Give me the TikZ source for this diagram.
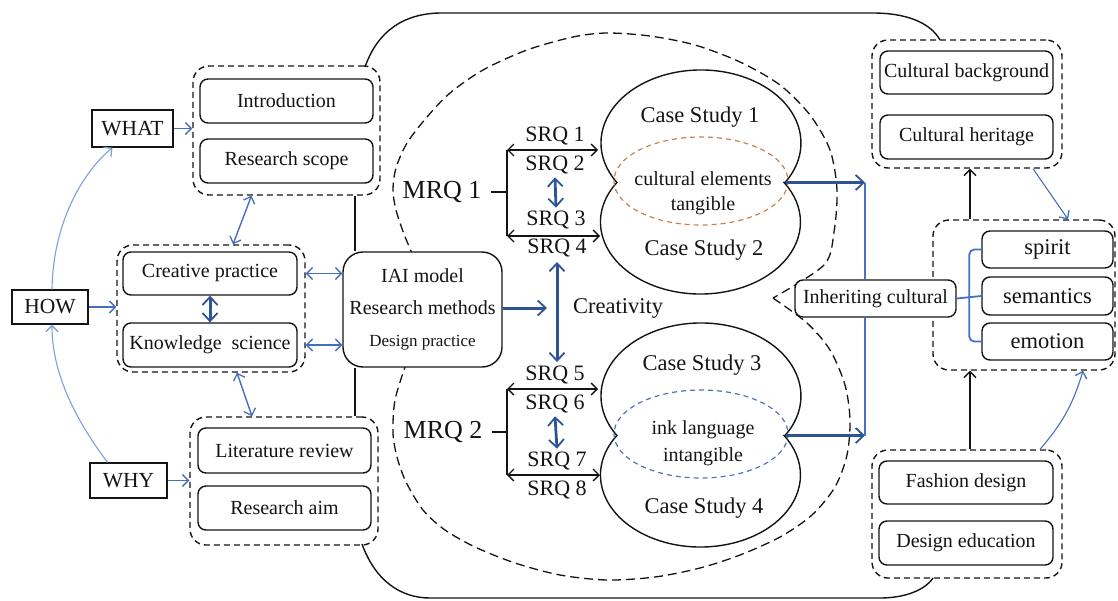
\documentclass[tikz,border=0pt]{standalone}
\usepackage{fontspec}
\setmainfont{Liberation Serif}
\usetikzlibrary{arrows.meta,calc}

\definecolor{ink}{RGB}{20,20,20}
\definecolor{flowblue}{RGB}{47,84,150}
\definecolor{linkblue}{RGB}{70,110,190}
\definecolor{paleblue}{RGB}{125,160,220}
\definecolor{treeblue}{RGB}{68,114,196}
\definecolor{amber}{RGB}{200,130,80}
\definecolor{slateblue}{RGB}{85,115,175}

\tikzset{
  box/.style={draw=ink, line width=1.4pt, rounded corners=8pt, fill=white,
    inner sep=0pt, text=ink, font=\fontsize{20}{24}\selectfont},
  group/.style={draw=ink, line width=1.4pt, dash pattern=on 6pt off 4pt,
    rounded corners=16pt, inner sep=0pt},
  tag/.style={draw=ink, line width=1.4pt, fill=white, inner sep=0pt,
    text=ink, font=\fontsize{21.5}{24}\selectfont},
  lbl/.style={inner sep=0pt, text=ink},
  barb/.tip={Straight Barb[length=6pt,width=12pt,line width=1.3pt]},
  bigbarb/.tip={Straight Barb[length=8pt,width=15pt,line width=1.8pt]},
  linkarrow/.style={draw=linkblue, line width=1.4pt, -barb},
  linkboth/.style={draw=linkblue, line width=1.4pt, barb-barb},
  palearrow/.style={draw=paleblue, line width=1.1pt, -barb},
  flowarrow/.style={draw=flowblue, line width=3pt, -bigbarb},
  flowboth/.style={draw=flowblue, line width=3pt, bigbarb-bigbarb},
  srqarrow/.style={draw=ink, line width=1.5pt, barb-barb},
  blackarrow/.style={draw=ink, line width=1.4pt, -barb},
  outline/.style={draw=ink, line width=1.4pt},
  bigdash/.style={draw=ink, line width=1.3pt, dash pattern=on 9pt off 5pt},
}

\begin{document}
\begin{tikzpicture}[x=1pt, y=-1pt]
\useasboundingbox (0,0) rectangle (1118,600);

% ---------- inner dashed region around the research questions ----------
\draw[bigdash] plot[smooth] coordinates {
  (414,258) (404,234) (396,210) (393,190) (396,168) (407,143) (427,117)
  (450,93) (483,70) (527,50) (573,37) (607,33) (650,36) (695,45) (740,62)
  (780,85) (810,115) (830,150) (837,190) (834,232) (824,265) (773,298)};
\draw[bigdash] plot[smooth] coordinates {
  (773,298) (807,323) (830,350) (845,385) (850,420) (847,455) (835,487)
  (812,515) (780,537) (740,555) (700,568) (655,577) (607,580) (560,575)
  (515,563) (475,547) (445,530) (423,510) (406,482) (397,457) (393,433)
  (395,400) (406,364)};

% ---------- left column ----------
\node[tag, minimum width=81pt, minimum height=37pt] (what) at (132.5,128.5) {WHAT};
\node[tag, minimum width=76pt, minimum height=34pt] (how) at (50,307) {HOW};
\node[tag, minimum width=77pt, minimum height=35pt] (why) at (128.5,480.5) {WHY};

\node[group, minimum width=187pt, minimum height=129pt] (grpTop) at (286.5,130.5) {};
\node[box, minimum width=173pt, minimum height=44pt] (intro) at (286.5,101) {Introduction};
\node[box, minimum width=173pt, minimum height=44pt] (scope) at (286.5,161) {Research scope};

\node[group, minimum width=188pt, minimum height=127pt] (grpMid) at (211,308.5) {};
\node[box, minimum width=174pt, minimum height=43pt] (creative) at (210,273.5) {Creative practice};
\node[box, minimum width=174pt, minimum height=44pt] (knowledge) at (210,345) {Knowledge\ \ science};

\node[group, minimum width=188pt, minimum height=128pt] (grpBot) at (284,481) {};
\node[box, minimum width=173pt, minimum height=45pt] (litrev) at (284.5,450.5) {Literature review};
\node[box, minimum width=173pt, minimum height=44pt] (aim) at (284.5,508) {Research aim};

% ---------- outer solid outline ----------
\coordinate (olTL) at (365,67);
\coordinate (olT1) at (442,13);
\coordinate (olT2) at (873,13);
\draw[outline] (olTL) .. controls (378,30) and (405,13) .. (olT1) -- (olT2)
  .. controls (905,13) and (930,22) .. (940,40);
\coordinate (olBL) at (362,544);
\coordinate (olB1) at (430,598);
\coordinate (olB2) at (880,598);
\draw[outline] (olBL) .. controls (375,580) and (400,598) .. (olB1) -- (olB2)
  .. controls (905,598) and (925,590) .. (933,578);

% ---------- central method box ----------
\node[box, rounded corners=20pt, minimum width=159pt, minimum height=115pt,
  align=center, font=\fontsize{20}{32}\selectfont] (iai) at (422.5,309.5)
  {IAI model\\Research methods\\{\fontsize{17}{32}\selectfont Design practice}};
\coordinate (spine) at (355,0);
\draw[outline] (spine |- grpTop.south) -- (spine |- iai.north);
\draw[outline] (spine |- iai.south) -- (spine |- grpBot.north);

% left column connectors
\draw[linkarrow] (what.east) -- (what.east -| grpTop.west);
\draw[linkarrow] (how.east) -- (how.east -| grpMid.west);
\draw[linkarrow] (why.east) -- (why.east -| grpBot.west);
\draw[palearrow] ($(how.north)+(2,0)$) .. controls (53,220) and (85,170) .. ($(what.south)+(-20,0)$);
\draw[palearrow] ($(why.north)+(-21,0)$) .. controls (72,415) and (52,370) .. ($(how.south)+(2,0)$);
\draw[linkboth] ($(grpTop.south)+(-35,0)$) -- ($(grpMid.north)+(22,0)$);
\draw[linkboth] ($(grpMid.south)+(26,0)$) -- ($(grpBot.north)+(-32,0)$);
\draw[linkboth] (grpMid.east |- creative) -- (iai.west |- creative);
\draw[linkboth] (grpMid.east |- knowledge) -- (iai.west |- knowledge);
\draw[flowboth] (creative.south) -- (knowledge.north);

% ---------- research questions ----------
\node[lbl, font=\fontsize{26}{30}\selectfont] (mrq1) at (442,192) {MRQ 1};
\coordinate (br1) at (507,192);
\coordinate (b1t) at (507,150);
\coordinate (b1b) at (507,236);
\draw[outline, line width=1.8pt] (mrq1.east) ++(9,0) -- (br1);
\draw[outline, line width=1.6pt] (b1t) -- (b1b);
\draw[srqarrow] (b1t) -- (598,150);
\draw[srqarrow] (b1b) -- (600,236);
\node[lbl, font=\fontsize{22}{26}\selectfont] (srq1) at (555,136) {SRQ 1};
\node[lbl, font=\fontsize{22}{26}\selectfont] (srq2) at (555,165) {SRQ 2};
\node[lbl, font=\fontsize{22}{26}\selectfont] (srq3) at (556,220) {SRQ 3};
\node[lbl, font=\fontsize{22}{26}\selectfont] (srq4) at (557,248) {SRQ 4};
\draw[flowboth, line width=2.8pt] (srq2.south) ++(0,3) -- ($(srq3.north)+(0,-3)$);

\node[lbl, font=\fontsize{26}{30}\selectfont] (mrq2) at (443,432) {MRQ 2};
\coordinate (br2) at (507,432);
\coordinate (b2t) at (507,389);
\coordinate (b2b) at (507,475);
\draw[outline, line width=1.8pt] (mrq2.east) ++(9,0) -- (br2);
\draw[outline, line width=1.6pt] (b2t) -- (b2b);
\draw[srqarrow] (b2t) -- (598,389);
\draw[srqarrow] (b2b) -- (600,475);
\node[lbl, font=\fontsize{22}{26}\selectfont] (srq5) at (555,375) {SRQ 5};
\node[lbl, font=\fontsize{22}{26}\selectfont] (srq6) at (555,404) {SRQ 6};
\node[lbl, font=\fontsize{22}{26}\selectfont] (srq7) at (557,461) {SRQ 7};
\node[lbl, font=\fontsize{22}{26}\selectfont] (srq8) at (557,490) {SRQ 8};
\draw[flowboth, line width=2.8pt] (srq6.south) ++(0,3) -- ($(srq7.north)+(0,-3)$);

% creativity link
\node[lbl, font=\fontsize{22.5}{26}\selectfont] (creat) at (618,308) {Creativity};
\draw[flowboth] (557,262) -- (557,362);
\draw[flowarrow] (iai.east |- creat) -- (547,308);

% ---------- case-study pairs ----------
\draw[outline] (785,182.5) arc[start angle=32.8, end angle=-212.8, x radius=100, y radius=73]
  arc[start angle=213.3, end angle=-33.3, x radius=100, y radius=72] -- cycle;
\draw[amber, line width=1.2pt, dash pattern=on 5pt off 4pt] (701,181) ellipse[x radius=87, y radius=44];
\node[lbl, font=\fontsize{22.5}{26}\selectfont] (cs1) at (700,117) {Case Study 1};
\node[lbl, font=\fontsize{20}{24}\selectfont] (elem) at (703,179) {cultural elements};
\node[lbl, font=\fontsize{20}{24}\selectfont] (tang) at (703,206) {tangible};
\node[lbl, font=\fontsize{22.5}{26}\selectfont] (cs2) at (704,250) {Case Study 2};
\coordinate (cuspA) at (786,182.5);

\begin{scope}[shift={(0,253)}]
\draw[outline] (785,182.5) arc[start angle=32.8, end angle=-212.8, x radius=100, y radius=73]
  arc[start angle=213.3, end angle=-33.3, x radius=100, y radius=72] -- cycle;
\draw[slateblue, line width=1.2pt, dash pattern=on 5pt off 4pt] (701,181) ellipse[x radius=87, y radius=44];
\coordinate (cuspB) at (786,182.5);
\end{scope}
\node[lbl, font=\fontsize{22.5}{26}\selectfont] (cs3) at (702,365) {Case Study 3};
\node[lbl, font=\fontsize{20}{24}\selectfont] (ink) at (703,430) {ink language};
\node[lbl, font=\fontsize{20}{24}\selectfont] (intang) at (703,457) {intangible};
\node[lbl, font=\fontsize{22.5}{26}\selectfont] (cs4) at (704,508) {Case Study 4};

% ---------- right column ----------
\node[group, minimum width=190pt, minimum height=128pt] (grpCult) at (967,104) {};
\node[box, minimum width=173pt, minimum height=43pt] (bg) at (966.5,72.5) {Cultural background};
\node[box, minimum width=173pt, minimum height=44pt] (heritage) at (966.5,137) {Cultural heritage};

\node[group, minimum width=182pt, minimum height=150pt] (grpSpirit) at (1024,295) {};
\node[box, minimum width=131pt, minimum height=37pt, font=\fontsize{22.5}{26}\selectfont] (spirit) at (1047.5,249.5) {spirit};
\node[box, minimum width=131pt, minimum height=38pt, font=\fontsize{22.5}{26}\selectfont] (semantics) at (1047.5,296) {semantics};
\node[box, minimum width=131pt, minimum height=37pt, font=\fontsize{22.5}{26}\selectfont] (emotion) at (1047.5,341.5) {emotion};

\node[box, minimum width=161pt, minimum height=37pt] (inherit) at (875.5,298.5) {Inheriting cultural};

\node[group, minimum width=190pt, minimum height=128pt] (grpFashion) at (967,514) {};
\node[box, minimum width=174pt, minimum height=43pt] (fashion) at (966,482.5) {Fashion design};
\node[box, minimum width=174pt, minimum height=44pt] (educ) at (966,543) {Design education};

% flows into the inheritance box
\coordinate (joinA) at (865,182.5);
\coordinate (joinB) at (865,435.5);
\draw[flowarrow] (cuspA) -- (joinA);
\draw[flowarrow] (cuspB) -- (joinB);
\draw[treeblue, line width=1.5pt] (joinA) -- (joinA |- inherit.north);
\draw[treeblue, line width=1.5pt] (joinB) -- (joinB |- inherit.south);

% branches to spirit / semantics / emotion
\draw[treeblue, line width=1.8pt] (inherit.east) -- (semantics.west);
\draw[treeblue, line width=1.8pt, rounded corners=5pt] (spirit.west) -- ++(-12,0) |- (emotion.west);

% right column connectors
\coordinate (bx) at (970,0);
\draw[blackarrow] (bx |- grpSpirit.north) -- (bx |- grpCult.south);
\draw[blackarrow] (bx |- grpFashion.north) -- (bx |- grpSpirit.south);
\draw[palearrow, draw=linkblue] ($(grpCult.south)+(66,0)$) -- ($(grpSpirit.north)+(44,0)$);
\draw[palearrow, draw=linkblue] ($(grpFashion.north)+(73,0)$) to[bend right=12] ($(grpSpirit.south)+(59,0)$);
\end{tikzpicture}
\end{document}
